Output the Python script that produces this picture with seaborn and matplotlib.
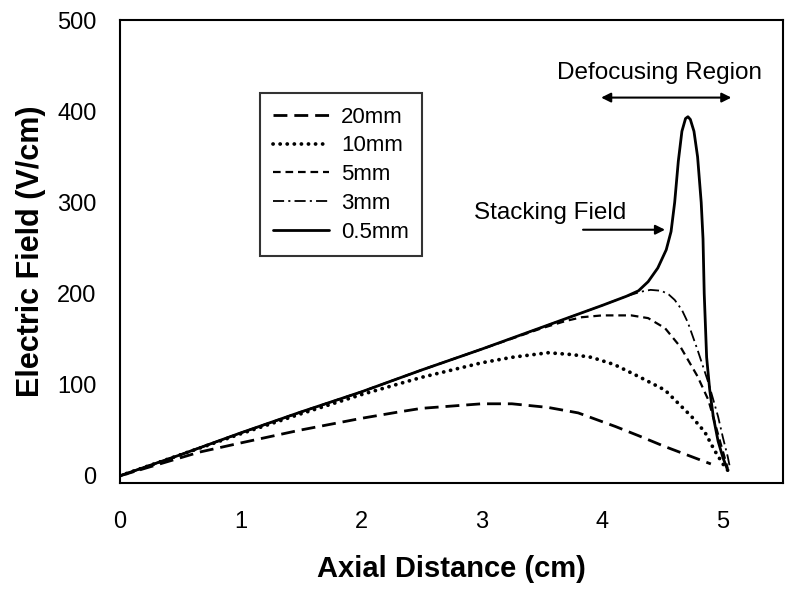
import matplotlib
matplotlib.use("Agg")
import matplotlib.pyplot as plt
import seaborn as sns

# --- data (x in cm, field in V/cm) ---
x_20mm = [0, 0.33, 0.66, 1.0, 1.49, 2.0, 2.31, 2.5, 3.0, 3.25, 3.55, 3.8, 4.11, 4.3, 4.52, 4.7, 4.9]
e_20mm = [0, 13, 26, 36, 50, 63, 70, 74, 79, 79, 75, 69, 54, 44, 32, 23, 13]

x_10mm = [0, 0.5, 1.0, 1.5, 2.0, 2.5, 3.0, 3.25, 3.55, 3.75, 3.91, 4.1, 4.3, 4.52, 4.74, 4.85, 4.93, 5.0, 5.04]
e_10mm = [0, 23, 46, 68, 89, 108, 124, 130, 135, 133, 130, 122, 109, 94, 65, 48, 28, 13, 6]

x_5mm = [0, 0.5, 1.0, 1.5, 2.0, 2.5, 3.0, 3.5, 3.7, 3.83, 4.0, 4.24, 4.38, 4.52, 4.65, 4.79, 4.88, 4.98, 5.04]
e_5mm = [0, 23, 47, 70, 92, 116, 139, 162, 170, 174, 176, 176, 173, 162, 141, 109, 83, 36, 8]

x_3mm = [0, 0.5, 1.0, 1.5, 2.0, 2.5, 3.0, 3.5, 4.0, 4.2, 4.32, 4.4, 4.49, 4.55, 4.6, 4.66, 4.71, 4.79, 4.88, 4.96, 5.0, 5.04, 5.06]
e_3mm = [0, 23, 47, 70, 92, 116, 139, 163, 187, 197, 202, 204, 203, 199, 193, 182, 168, 138, 102, 65, 42, 21, 8]

x_05mm = [0, 0.5, 1.0, 1.5, 2.0, 2.5, 3.0, 3.5, 4.0, 4.2, 4.3, 4.38, 4.46, 4.53, 4.57, 4.6, 4.63, 4.66,
          4.69, 4.71, 4.73, 4.76, 4.79, 4.82, 4.835, 4.845, 4.865, 4.89, 4.92, 4.96, 5.0, 5.04]
e_05mm = [0, 23, 47, 70, 92, 116, 139, 163, 187, 197, 203, 213, 228, 248, 268, 300, 345, 378,
          392, 394, 391, 378, 350, 300, 260, 200, 130, 95, 65, 38, 20, 6]

x_ticks = [0, 1, 2, 3, 4, 5]
y_ticks = [0, 100, 200, 300, 400, 500]

sns.set_theme(style="white", rc={"axes.edgecolor": "black", "axes.linewidth": 1.5,
                                 "xtick.color": "black", "ytick.color": "black",
                                 "text.color": "black", "axes.labelcolor": "black",
                                 "lines.scale_dashes": False})
plt.rcParams['font.family'] = ['Liberation Sans', 'DejaVu Sans']

fig = plt.figure(figsize=(8, 5.92), dpi=100)
ax = fig.add_axes([0.15, 0.184, 0.829, 0.782])

common = dict(ax=ax, color="black", estimator=None, sort=False, errorbar=None)
sns.lineplot(x=x_20mm, y=e_20mm, label="20mm", lw=2.0, linestyle=(0, (10, 5)), **common)
sns.lineplot(x=x_10mm, y=e_10mm, label="10mm", lw=2.7, linestyle=(0, (0.1, 5.0)),
             dash_capstyle="round", **common)
sns.lineplot(x=x_5mm, y=e_5mm, label="5mm", lw=1.6, linestyle=(0, (5.5, 3.5)), **common)
sns.lineplot(x=x_3mm, y=e_3mm, label="3mm", lw=1.3, linestyle=(0, (8, 3, 1.5, 3)), **common)
sns.lineplot(x=x_05mm, y=e_05mm, label="0.5mm", lw=2.0, linestyle="-", **common)

ax.set_xlim(0, 5.5)
ax.set_ylim(-8, 500)
ax.set_xticks(x_ticks)
ax.set_yticks(y_ticks)
ax.tick_params(direction="out", length=7, width=1.5, labelsize=17)
ax.tick_params(axis="x", pad=13)
ax.tick_params(axis="y", pad=10)
for s in ax.spines.values():
    s.set_visible(True)
    s.set_color("black")

ax.set_xlabel("Axial Distance (cm)", fontsize=21, fontweight="bold", labelpad=16)
ax.set_ylabel("Electric Field (V/cm)", fontsize=22, fontweight="bold", labelpad=8)

leg = ax.legend(loc="upper left", bbox_to_anchor=(0.211, 0.842), borderaxespad=0,
                fontsize=16, frameon=True, fancybox=False, shadow=False,
                handlelength=2.5, handletextpad=0.55, labelspacing=0.35, borderpad=0.6)
leg.get_frame().set_edgecolor("black")
leg.get_frame().set_linewidth(1.5)

# annotations
ax.annotate("", xy=(5.07, 415), xytext=(3.99, 415),
            arrowprops=dict(arrowstyle="<|-|>", color="black", lw=1.5,
                            mutation_scale=14, shrinkA=0, shrinkB=0))
ax.text(4.47, 442, "Defocusing Region", ha="center", va="center", fontsize=17.5)
ax.annotate("", xy=(4.52, 270), xytext=(3.84, 270),
            arrowprops=dict(arrowstyle="-|>", color="black", lw=1.5,
                            mutation_scale=14, shrinkA=0, shrinkB=0))
ax.text(3.57, 288, "Stacking Field", ha="center", va="center", fontsize=17.5)

fig.savefig("out.png", dpi=100)
plt.close(fig)
